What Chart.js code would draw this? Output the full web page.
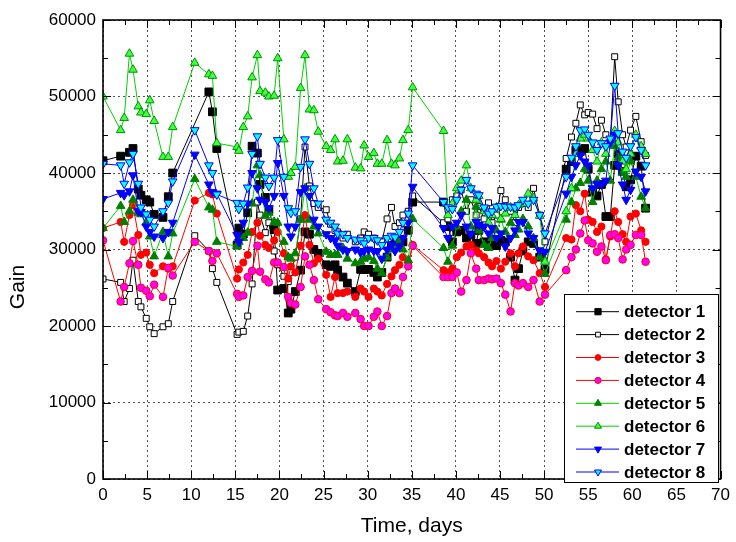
<!DOCTYPE html>
<html>
<head>
<meta charset="utf-8">
<script src="https://cdn.jsdelivr.net/npm/chart.js@4.4.1/dist/chart.umd.min.js"></script>
<style>
  html, body { margin: 0; padding: 0; background: #fff; }
  #wrap { width: 736px; height: 542px; }
</style>
</head>
<body>
<div id="wrap"><canvas id="gainChart"></canvas></div>
<script>
// measurement times, days
const days = [
  0, 2, 2.4, 3, 3.4, 4, 4.3, 4.9, 5.3, 5.8, 6.8, 7.4, 7.9,
  10.4, 12, 12.4, 12.9,
  15.2, 15.4, 15.9, 16.4, 16.9, 17.5, 17.8, 18.4, 18.8, 19.4, 19.8, 20.5, 21, 21.3, 21.8, 22.4, 22.9, 23.4, 23.9, 24.4,
  25.3, 25.8, 26.3, 26.6, 27.2, 27.7, 28.6, 29.2, 29.6, 30.1, 30.7, 31.1, 31.6, 32.2, 32.7, 33.1, 33.6, 34, 34.6, 35.1,
  38.6, 39.1, 39.6, 40.1, 40.6, 41.2, 41.7, 42.3, 42.6, 43.2, 43.7, 44.1, 44.6, 45.1, 45.6, 46.2, 46.7, 47.1, 47.6, 48.2, 48.8, 49.5, 50.1,
  52.5, 53.1, 53.6, 54.1, 54.6, 55, 55.5, 56, 56.5, 57, 57.5, 58, 58.4, 58.9, 59.3, 59.8, 60.4, 61, 61.5
];

// gain per detector (null = no reading)
const det1 = [
  41600, 42200, null, 42700, 43200, 37900, 37100, 36500, 36200, 34600, 34200, 36900, 40000,
  null, 50600, 48000, 43200,
  30600, 32800, 32000, 34800, 43500, 42600, 38500, 36800, 35200, 32600, 24700, 24900, 21700, 22200, 24500, 27300, 32300, 32000, 30000, 29500,
  28000, 27800, 28000, 27300, 26400, 25600, 24500, 27400, 27400, 27400, 27000, 26400, 27000, 29000, 30500, 31000, 31200, 31000, 32500, 36200,
  36200, 33000, 31000, 32300, 32500, 31500, 31900, 30800, 32500, 31000, 30400, 31200, 30500, 31200, 31000, 29000, 26000, 27500, 29800, 31000, 30800, 29000, 27400,
  40500, 41500, 43000, 42800, 43200, 40500, 37500, 37000, 38500, 34300, 34300, 41000, 42500, 40200, 38200, 39100, 42200, 40900, 35400
];
const det2 = [
  26150, 25700, 23200, 24900, 28600, 23200, 22500, 21000, 19900, 19000, 19900, 20300, 23200,
  31800, 29800, 27500, 25700,
  18900, 19200, 19300, 21300, 25500, 36200, 34500, 32200, 33500, 29800, 28000, 26500, 25800, 27000, 29000, 34000, 43400, 38300, 36000, 35500,
  35200, 33300, 32500, 32300, 31500, 32000, 31000, 31500, 32300, 32000, 31500, 30500, 31000, 34000, 35500, 33000, 33500, 34500, 35000, 37000,
  33500, 34000, 36500, 37000, 37800, 35000, 36500, 34500, 35600, 34000, 36100, 33500, 34500, 37700, 36500, 35000, 33500, 35500, 36000, 35500, 38000, 34500, 31000,
  41900, 44700, 46500, 48900, 47600, 47900, 47700, 45800, 46900, 45000, 44000, 55200, 49300, 45000, 43400, 45600, 47400, 44100, 42300
];
const det3 = [
  32800, 33600, 31000, 34500, 35800, 31900, 29300, 29600, 28000, 26900, 27800, 27500, 27800,
  36400, 37400, 37200, 34700,
  26200, 27400, 28300, 29300, 32300, 33500, 31800, 30600, 30200, 31200, 32300, 29500, 26200, 27800, 27000, 30500, 34500, 30600, 28200, 28800,
  26700, 23800, 26400, 24300, 24300, 24500, 23800, 24900, 24500, 23800, 24900, 24500, 24000, 25500, 26500, 27300, 28000, 29000, 28300, 30600,
  27300, 27000, 27500, 29000, 29600, 30400, 30600, 29900, 29500, 29000, 28300, 27800, 28500, 27500, 28400, 29500, 27800, 29500, 30400, 29100, 28600, 26900, 25100,
  31500, 31300, 35800, 35000, 37300, 33900, 33600, 32300, 33000, 28700, 31700, 35000, 33600, 32000, 31000, 34300, 34700, 32500, 31000
];
const det4 = [
  31200, 23200, 25100, 28200, 31100, 28000, 25000, 24600, 23900, 25400, 23800, 27600, 26600,
  31000, 29800, 28500, 29500,
  24200, 23800, 24000, 26400, 27200, 30500, 27100, 26100, 25700, 28300, 28300, 27700, 23800, 23000, 22800, 25100, 29100, 28000, 26000, 23500,
  22200, 21800, 21400, 21300, 21700, 21200, 21700, 20900, 20000, 20000, 21200, 21900, 20000, 21300, 24300, 24900, 24300, 26400, 27800, 30500,
  26400, 26400, 26400, 27000, 24500, 26000, 29500, 27500, 26000, 26000, 26200, 26100, 26200, 25600, 24100, 21900, 25600, 25300, 25600, 25100, 26000, 23200, 24100,
  27300, 29000, 30000, 32100, 33800, 31200, 30800, 29700, 30400, 28600, 31900, 32000, 31500, 28700, 30000, 30600, 31900, 31900, 28400
];
const det5 = [
  32800, 35700, 33600, 35000, 36500, 34800, 34600, 33500, 31700, 29100, 32300, 29100, 32100,
  39200, 35500, 35200, 31000,
  30400, 31000, 31500, 32200, 36000, 41000, 39700, 34400, 34800, 33600, 33500, 31000, 29000, 28800, 29500, 33900, 38000, 33900, 33000, 32100,
  29700, 29300, 29300, 29300, 30200, 28800, 28200, 28400, 28800, 29000, 28500, 27500, 26900, 29000, 30000, 30500, 31200, 30000, 28600, 34000,
  30200, 28400, 30500, 33000, 35000, 36500, 33000, 35600, 32500, 30600, 30200, 31500, 32500, 33900, 32300, 33500, 31900, 32600, 34000, 33000, 31500, 29000, 26800,
  33900, 36200, 38000, 38700, 40500, 39000, 36200, 39000, 40500, 41500, 39000, 43500, 42000, 40000, 39500, 41500, 39500, 36900, 35400
];
const det6 = [
  50000, 45600, 47200, 55600, 53500, 48700, 47900, 47700, 49500, 46800, 42100, 42100, 46000,
  54400, 52900, 52700, 43900,
  43400, 42900, 46000, 47400, 52500, 55400, 50700, 50500, 50000, 50100, 55000, 44400, 39500, 40000, 40800, 51100, 55400, 48300, 48200, 45400,
  43500, 43000, 44400, 41500, 41600, 44400, 40700, 40600, 43600, 42100, 42600, 41200, 41200, 44300, 41200, 41000, 41900, 44300, 45600, 51200,
  45500, 34500, 36000, 38000, 39000, 41000, 38000, 36500, 37000, 35000, 33500, 34500, 35500, 34000, 34700, 35500, 34500, 35800, 36000, 37300, 36700, 34400, 28400,
  35000, 38000, 42500, 44500, 45000, 44500, 43000, 41500, 44000, 42500, 44000, 45500, 44000, 41500, 40500, 42500, 45000, 43500, 42500
];
const det7 = [
  36600, 37400, 37100, 37600, 39700, 35000, 34900, 33000, 32300, 31700, 31500, 32300, 33500,
  42400, 38500, 37500, 37300,
  31900, 31000, 33500, 36000, 40000, 38000, 36500, 36200, 35400, 37000, 41300, 37000, 33000, 31700, 33000, 37500, 38000, 37000, 33900, 33000,
  32000, 31500, 31200, 30500, 30000, 29800, 30000, 29600, 29800, 30000, 29800, 29800, 28800, 30000, 30600, 29800, 30400, 31500, 33500, 38200,
  32800, 31500, 33000, 33500, 34500, 33000, 32000, 33600, 33200, 33000, 32100, 32800, 31500, 32100, 30400, 31500, 32500, 33600, 33600, 32100, 31500, 29900, 29700,
  37300, 39500, 41000, 42300, 41500, 41000, 38000, 38600, 38500, 39000, 44000, 45000, 41000, 38500, 36500, 37800, 40200, 39500, 37600
];
const det8 = [
  41200, 41000, 38600, 41400, 42500, 38600, 35500, 34600, 33900, 33000, 35000, 36100, 38900,
  45600, 41000, 40000, 37200,
  36100, 35300, 36000, 38100, 42500, 44800, 41200, 39400, 38300, 39400, 44300, 39500, 35400, 34800, 35000, 40800, 44400, 41200, 38000, 36000,
  33900, 33500, 33000, 32100, 32000, 31500, 31300, 31200, 30800, 31500, 31500, 31200, 30600, 31500, 31800, 31600, 32300, 33500, 34700, 41000,
  36200, 35500, 35300, 36500, 37800, 39100, 38000, 37300, 37100, 35500, 34700, 35000, 35600, 35700, 35600, 35600, 35500, 35800, 36500, 36000, 36500, 34500, 32100,
  39500, 42000, 43500, 45600, 45700, 45000, 44000, 43000, 43900, 43500, 44500, 51400, 45200, 42800, 42000, 43500, 44700, 43000, 41000
];

const seriesNames = ['detector 1', 'detector 2', 'detector 3', 'detector 4',
  'detector 5', 'detector 6', 'detector 7', 'detector 8'];
const dayTicks = { min: 0, max: 70, step: 5 };
const gainTicks = { min: 0, max: 60000, step: 10000 };

const FONT = "'Liberation Sans', Arial, sans-serif";

const toPoints = vals => vals.map((v, i) => ({ x: days[i], y: v }));

const makeSet = (i, vals, line, fill, edge, style, radius, rotation) => ({
  label: seriesNames[i],
  data: toPoints(vals),
  borderColor: line,
  borderWidth: 1,
  backgroundColor: fill,
  pointStyle: style,
  pointRadius: radius,
  pointRotation: rotation || 0,
  pointBackgroundColor: fill,
  pointBorderColor: edge,
  pointBorderWidth: 1,
  pointHoverRadius: radius,
  spanGaps: true,
  tension: 0,
  order: 8 - i,
});

const datasets = [
  makeSet(0, det1, '#000000', '#000000', '#000000', 'rect', 5.5),
  makeSet(1, det2, '#000000', '#ffffff', '#000000', 'rect', 4.2),
  makeSet(2, det3, '#ff0000', '#ff0000', '#ff0000', 'circle', 3.6),
  makeSet(3, det4, '#ff0000', '#ff00ff', '#ff0000', 'circle', 3.8),
  makeSet(4, det5, '#00d000', '#008000', '#008000', 'triangle', 5),
  makeSet(5, det6, '#00d000', '#40ff40', '#009000', 'triangle', 5),
  makeSet(6, det7, '#0000ff', '#0000ff', '#0000ff', 'triangle', 5, 180),
  makeSet(7, det8, '#0000ff', '#00ffff', '#0000ff', 'triangle', 5, 180),
];

// frame with inward ticks on all four sides, plus rotated y title
const frameTicks = {
  id: 'frameTicks',
  afterDatasetsDraw(chart) {
    const { ctx, chartArea: a, scales: { x, y } } = chart;
    ctx.save();
    ctx.strokeStyle = '#000';
    ctx.lineWidth = 1;
    ctx.beginPath();
    for (let d = dayTicks.min; d <= dayTicks.max; d += dayTicks.step / 2) {
      const px = Math.round(x.getPixelForValue(d)) + 0.5;
      const len = d % dayTicks.step === 0 ? 8 : 5;
      ctx.moveTo(px, a.bottom); ctx.lineTo(px, a.bottom - len);
      ctx.moveTo(px, a.top); ctx.lineTo(px, a.top + len);
    }
    for (let g = gainTicks.min; g <= gainTicks.max; g += gainTicks.step / 2) {
      const py = Math.round(y.getPixelForValue(g)) + 0.5;
      const len = g % gainTicks.step === 0 ? 8 : 5;
      ctx.moveTo(a.left, py); ctx.lineTo(a.left + len, py);
      ctx.moveTo(a.right, py); ctx.lineTo(a.right - len, py);
    }
    ctx.stroke();
    ctx.lineWidth = 1.6;
    ctx.strokeRect(a.left, a.top, a.right - a.left, a.bottom - a.top);

    ctx.translate(18, 287);
    ctx.rotate(-Math.PI / 2);
    ctx.fillStyle = '#000';
    ctx.font = '21px ' + FONT;
    ctx.textAlign = 'center';
    ctx.textBaseline = 'middle';
    ctx.fillText('Gain', 0, 0);
    ctx.restore();
  }
};

// boxed legend inside the plot, lower right
const boxLegend = {
  id: 'boxLegend',
  afterDraw(chart) {
    const { ctx } = chart;
    const left = 564, top = 294, width = 154, height = 188;
    const rowTop = 311.7, rowGap = 22.9;
    ctx.save();
    ctx.fillStyle = '#fff';
    ctx.fillRect(left, top, width, height);
    ctx.strokeStyle = '#000';
    ctx.lineWidth = 1;
    ctx.strokeRect(left + 0.5, top + 0.5, width, height);
    chart.data.datasets.forEach((ds, i) => {
      const ry = rowTop + i * rowGap;
      ctx.strokeStyle = ds.borderColor;
      ctx.lineWidth = 1;
      ctx.beginPath();
      ctx.moveTo(576, ry);
      ctx.lineTo(619, ry);
      ctx.stroke();
      ctx.fillStyle = ds.pointBackgroundColor;
      ctx.strokeStyle = ds.pointBorderColor;
      Chart.helpers.drawPoint(ctx, {
        pointStyle: ds.pointStyle,
        rotation: ds.pointRotation,
        radius: ds.pointRadius * 0.8,
        borderWidth: 1,
      }, 598, ry);
      ctx.fillStyle = '#000';
      ctx.font = 'bold 17px ' + FONT;
      ctx.textAlign = 'left';
      ctx.textBaseline = 'middle';
      ctx.fillText(ds.label, 624, ry + 1);
    });
    ctx.restore();
  }
};

const gridStyle = { color: '#555', lineWidth: 1, drawTicks: false };
const tickFont = { family: FONT, size: 17 };

new Chart(document.getElementById('gainChart'), {
  type: 'line',
  data: { datasets },
  options: {
    responsive: true,
    maintainAspectRatio: false,
    animation: false,
    devicePixelRatio: 1,
    layout: { padding: { top: 20, right: 9, left: 0, bottom: 0 } },
    plugins: { legend: { display: false }, tooltip: { enabled: false } },
    scales: {
      x: {
        type: 'linear',
        min: dayTicks.min,
        max: dayTicks.max,
        ticks: { stepSize: dayTicks.step, color: '#000', font: tickFont, padding: 6, maxRotation: 0 },
        grid: gridStyle,
        border: { display: false, dash: [2, 3] },
        title: {
          display: true, text: 'Time, days', color: '#000',
          font: { family: FONT, size: 21 }, padding: { top: 0, bottom: 3 },
        },
        afterFit: scale => { scale.height = 63; },
      },
      y: {
        min: gainTicks.min,
        max: gainTicks.max,
        ticks: {
          stepSize: gainTicks.step, color: '#000', font: tickFont, padding: 7,
          callback: value => String(value),
        },
        grid: gridStyle,
        border: { display: false, dash: [2, 3] },
        afterFit: scale => { scale.width = 103; },
      },
    },
  },
  plugins: [frameTicks, boxLegend],
});
</script>
</body>
</html>
